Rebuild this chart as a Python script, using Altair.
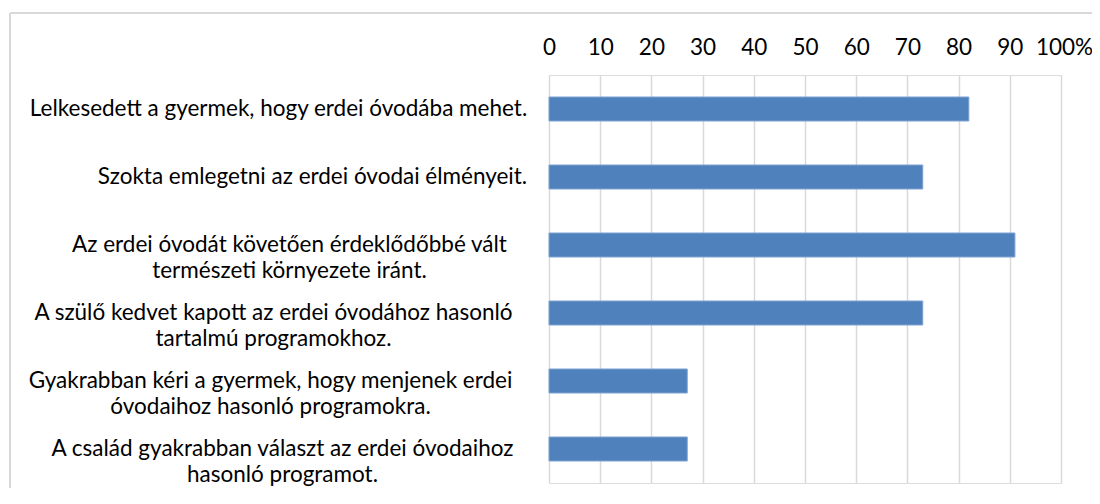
import altair as alt
import pandas as pd

categories = [
    "Lelkesedett a gyermek, hogy erdei óvodába mehet.",
    "Szokta emlegetni az erdei óvodai élményeit.",
    "Az erdei óvodát követően érdeklődőbbé vált\ntermészeti környezete iránt.",
    "A szülő kedvet kapott az erdei óvodához hasonló\ntartalmú programokhoz.",
    "Gyakrabban kéri a gyermek, hogy menjenek erdei\nóvodaihoz hasonló programokra.",
    "A család gyakrabban választ az erdei óvodaihoz\nhasonló programot.",
]
values = [82, 73, 91, 73, 27, 27]
x_ticks = [0, 10, 20, 30, 40, 50, 60, 70, 80, 90, 100]

df = pd.DataFrame({"label": categories, "value": values})

FONT = "Lato"
FS = 22.5
# per-label horizontal padding (label block centred like the original)
pads = [271, 237, 260, 276, 279, 267]
pad_cond = {
    "condition": [
        {"test": f"datum.value == {repr(c)}".replace("\n", "\\n"), "value": p}
        for c, p in zip(categories, pads)
    ],
    "value": 265,
}
offset_cond = {"condition": {"test": "datum.value == 100", "value": 3}, "value": 0}

W, H = 512, 408

bars = alt.Chart(df).mark_bar(size=24, color="#4F81BD", stroke="#7FA3D3", strokeWidth=1).encode(
    x=alt.X(
        "value:Q",
        scale=alt.Scale(domain=[0, 100], nice=False),
        axis=alt.Axis(
            orient="top",
            values=x_ticks,
            labelExpr="datum.value == 100 ? '100%' : datum.label",
            grid=True,
            gridColor="#D9D9D9",
            gridWidth=1.5,
            domain=False,
            ticks=False,
            tickSize=0,
            labelFont=FONT,
            labelFontSize=FS,
            labelColor="#000000",
            labelBaseline="alphabetic",
            labelPadding=21,
            labelOverlap=False,
            labelFlush=False,
            labelOffset=offset_cond,
            title=None,
        ),
    ),
    y=alt.Y(
        "label:N",
        sort=categories,
        scale=alt.Scale(paddingInner=0, paddingOuter=0),
        axis=alt.Axis(
            labelExpr="split(datum.label, '\\n')",
            labelAlign="center",
            labelBaseline="middle",
            labelPadding=pad_cond,
            labelLineHeight=26,
            labelFont=FONT,
            labelFontSize=FS,
            labelColor="#000000",
            labelLimit=0,
            labelOverlap=False,
            domain=False,
            ticks=False,
            tickSize=0,
            grid=False,
            title=None,
        ),
    ),
)

top_line = alt.Chart(df).mark_rule(stroke="#D9D9D9", strokeWidth=1.5).encode(
    x=alt.value(-539), x2=alt.value(700), y=alt.value(-62)
)
left_line = alt.Chart(df).mark_rule(stroke="#D9D9D9", strokeWidth=1.5).encode(
    x=alt.value(-539), y=alt.value(-62), y2=alt.value(600)
)

chart = (
    alt.layer(top_line, left_line, bars)
    .properties(
        width=W,
        height=H,
        autosize=alt.AutoSizeParams(type="none"),
        padding={"left": 541, "top": 67, "right": 31, "bottom": 5},
    )
    .configure_view(stroke=None)
    .configure(background="white")
)

chart.save("out.html", embed_options={"renderer": "svg", "actions": False})
